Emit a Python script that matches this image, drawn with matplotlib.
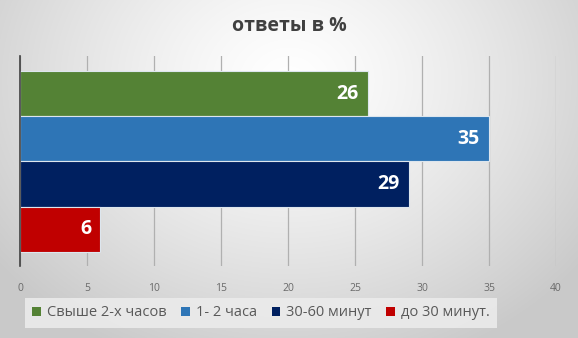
import numpy as np
import matplotlib
matplotlib.use("Agg")
import matplotlib.pyplot as plt
from matplotlib.patches import Patch

categories = ["Свыше 2-х часов", "1- 2 часа", "30-60 минут", "до 30 минут."]
values = [26, 35, 29, 6]
colors = ["#548235", "#2E75B6", "#002060", "#C00000"]
xticks = [0, 5, 10, 15, 20, 25, 30, 35, 40]
title = "ответы в %"

plt.rcParams['font.family'] = ['Open Sans', 'DejaVu Sans']

fig = plt.figure(figsize=(5.78, 3.38), dpi=100)

# background radial gradient
bg = fig.add_axes([0, 0, 1, 1], zorder=-10)
yy, xx = np.mgrid[0:338, 0:578]
d = np.sqrt(((xx - 289) / 340.0) ** 2 + ((yy - 80) / 280.0) ** 2)
v = np.clip(1.0 - 0.19 * d ** 1.3, 0.79, 1.0)
bg.imshow(np.dstack([v, v, v]), aspect='auto', extent=[0, 1, 0, 1], origin='upper')
bg.set_xlim(0, 1); bg.set_ylim(0, 1)
bg.axis('off')

ax = fig.add_axes([20/578, 1-266/338, 536/578, 210/338])
ax.patch.set_alpha(0)
ypos = [3, 2, 1, 0]
for y, val, c, lab in zip(ypos, values, colors, categories):
    ax.barh(y, val, height=1.0, color=c, edgecolor="#dde6ee", linewidth=0.8, label=lab, zorder=3)
    ax.text(val - 0.7, y, str(val), ha='right', va='center', color='white',
            fontsize=14, fontweight='bold', zorder=4)

ax.set_xlim(0, 40)
ax.set_ylim(-0.81, 3.83)
ax.set_xticks(xticks)
ax.set_yticks([])
ax.xaxis.grid(True, color="#b0b0b0", linewidth=0.9, zorder=0)
ax.tick_params(axis='x', length=0, labelsize=7.5, labelcolor="#6a6a6a", pad=12)
for s in ['top', 'right', 'bottom']:
    ax.spines[s].set_visible(False)
ax.spines['left'].set_color("#404040")
ax.spines['left'].set_linewidth(1.2)
ax.spines['left'].set_zorder(5)

fig.text(0.5, 1-26/338, title, ha='center', va='center', fontsize=14,
         fontweight='bold', color="#404040")

handles = [Patch(facecolor=c, label=l) for c, l in zip(colors, categories)]
leg = fig.legend(handles=handles, loc='center', bbox_to_anchor=(261/578, 1-313/338),
                 ncol=4, frameon=True, fontsize=10.5, handlelength=0.6, handleheight=0.6,
                 handletextpad=0.4, columnspacing=1.0, borderpad=0.5)
leg.get_frame().set_facecolor("#ebebeb")
leg.get_frame().set_edgecolor("none")
leg.get_frame().set_alpha(0.9)
leg.get_frame().set_boxstyle('square', pad=0.0)
for t in leg.get_texts():
    t.set_color("#595959")

fig.savefig("out.png", dpi=100)
